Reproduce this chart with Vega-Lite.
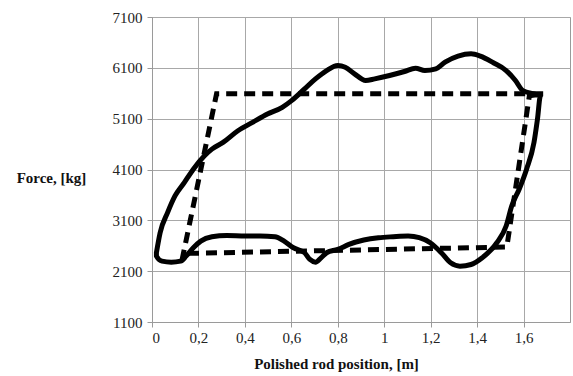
{
  "$schema": "https://vega.github.io/schema/vega-lite/v6.json",
  "width": 418,
  "height": 305,
  "autosize": {"type": "none"},
  "padding": {"left": 152, "top": 17, "right": 3, "bottom": 54},
  "background": "white",
  "config": {
    "view": {"stroke": "#9a9a9a", "strokeWidth": 1},
    "font": "Liberation Serif"
  },
  "datasets": {
    "measured": [
      {"i": 0, "x": 0.019, "y": 2462}, {"i": 1, "x": 0.035, "y": 2857}, {"i": 2, "x": 0.067, "y": 3251},
      {"i": 3, "x": 0.099, "y": 3580}, {"i": 4, "x": 0.139, "y": 3843}, {"i": 5, "x": 0.178, "y": 4107},
      {"i": 6, "x": 0.226, "y": 4370}, {"i": 7, "x": 0.258, "y": 4501}, {"i": 8, "x": 0.306, "y": 4633},
      {"i": 9, "x": 0.370, "y": 4863}, {"i": 10, "x": 0.433, "y": 5028}, {"i": 11, "x": 0.497, "y": 5192},
      {"i": 12, "x": 0.561, "y": 5324}, {"i": 13, "x": 0.601, "y": 5455}, {"i": 14, "x": 0.657, "y": 5686},
      {"i": 15, "x": 0.704, "y": 5883}, {"i": 16, "x": 0.752, "y": 6047}, {"i": 17, "x": 0.800, "y": 6146},
      {"i": 18, "x": 0.832, "y": 6113}, {"i": 19, "x": 0.872, "y": 5982}, {"i": 20, "x": 0.920, "y": 5850},
      {"i": 21, "x": 0.959, "y": 5883}, {"i": 22, "x": 1.023, "y": 5949}, {"i": 23, "x": 1.087, "y": 6028},
      {"i": 24, "x": 1.135, "y": 6093}, {"i": 25, "x": 1.175, "y": 6047}, {"i": 26, "x": 1.222, "y": 6080},
      {"i": 27, "x": 1.262, "y": 6212}, {"i": 28, "x": 1.318, "y": 6330}, {"i": 29, "x": 1.374, "y": 6376},
      {"i": 30, "x": 1.414, "y": 6330}, {"i": 31, "x": 1.470, "y": 6199}, {"i": 32, "x": 1.525, "y": 6047},
      {"i": 33, "x": 1.565, "y": 5850}, {"i": 34, "x": 1.597, "y": 5653}, {"i": 35, "x": 1.645, "y": 5587},
      {"i": 36, "x": 1.673, "y": 5554}, {"i": 37, "x": 1.660, "y": 5093}, {"i": 38, "x": 1.645, "y": 4633},
      {"i": 39, "x": 1.613, "y": 4107}, {"i": 40, "x": 1.581, "y": 3712}, {"i": 41, "x": 1.549, "y": 3383},
      {"i": 42, "x": 1.525, "y": 2988}, {"i": 43, "x": 1.485, "y": 2659}, {"i": 44, "x": 1.422, "y": 2363},
      {"i": 45, "x": 1.374, "y": 2231}, {"i": 46, "x": 1.326, "y": 2199}, {"i": 47, "x": 1.286, "y": 2264},
      {"i": 48, "x": 1.246, "y": 2462}, {"i": 49, "x": 1.198, "y": 2659}, {"i": 50, "x": 1.151, "y": 2758},
      {"i": 51, "x": 1.103, "y": 2791}, {"i": 52, "x": 1.039, "y": 2778}, {"i": 53, "x": 0.975, "y": 2758},
      {"i": 54, "x": 0.912, "y": 2712}, {"i": 55, "x": 0.848, "y": 2626}, {"i": 56, "x": 0.800, "y": 2528},
      {"i": 57, "x": 0.752, "y": 2462}, {"i": 58, "x": 0.728, "y": 2363}, {"i": 59, "x": 0.704, "y": 2277},
      {"i": 60, "x": 0.680, "y": 2330}, {"i": 61, "x": 0.657, "y": 2462}, {"i": 62, "x": 0.609, "y": 2561},
      {"i": 63, "x": 0.569, "y": 2692}, {"i": 64, "x": 0.529, "y": 2778}, {"i": 65, "x": 0.465, "y": 2791},
      {"i": 66, "x": 0.402, "y": 2791}, {"i": 67, "x": 0.322, "y": 2804}, {"i": 68, "x": 0.258, "y": 2778},
      {"i": 69, "x": 0.210, "y": 2692}, {"i": 70, "x": 0.178, "y": 2561}, {"i": 71, "x": 0.147, "y": 2396},
      {"i": 72, "x": 0.123, "y": 2297}, {"i": 73, "x": 0.083, "y": 2277}, {"i": 74, "x": 0.043, "y": 2297},
      {"i": 75, "x": 0.019, "y": 2396}, {"i": 76, "x": 0.019, "y": 2462}
    ],
    "theoretical": [
      {"i": 0, "x": 0.155, "y": 2450}, {"i": 1, "x": 1.528, "y": 2575}, {"i": 2, "x": 1.625, "y": 5550},
      {"i": 3, "x": 1.685, "y": 5590}, {"i": 4, "x": 0.278, "y": 5590}, {"i": 5, "x": 0.123, "y": 2180}
    ]
  },
  "encoding": {
    "x": {
      "field": "x", "type": "quantitative",
      "scale": {"domain": [0, 1.8], "nice": false, "zero": false},
      "axis": {
        "values": [0, 0.2, 0.4, 0.6, 0.8, 1, 1.2, 1.4, 1.6],
        "labelExpr": "replace(format(datum.value, ''), '.', ',')",
        "title": "Polished rod position, [m]",
        "titleFont": "Liberation Serif", "titleFontSize": 15, "titleFontWeight": "bold", "titleColor": "#111",
        "titleX": 184, "titleY": 46, "titleAnchor": "middle", "titleAlign": "center", "titleBaseline": "alphabetic",
        "labelFont": "Liberation Serif", "labelFontSize": 15, "labelColor": "#222", "labelPadding": 3,
        "gridColor": "#a8a8a8", "gridWidth": 1, "domainColor": "#9a9a9a", "tickColor": "#9a9a9a", "tickSize": 5
      }
    },
    "y": {
      "field": "y", "type": "quantitative",
      "scale": {"domain": [1100, 7100], "nice": false, "zero": false},
      "axis": {
        "values": [1100, 2100, 3100, 4100, 5100, 6100, 7100],
        "format": "d",
        "title": "Force, [kg]",
        "titleFont": "Liberation Serif", "titleFontSize": 15, "titleFontWeight": "bold", "titleColor": "#111",
        "titleAngle": 0, "titleX": -101, "titleY": 160, "titleAlign": "center", "titleBaseline": "middle",
        "labelFont": "Liberation Serif", "labelFontSize": 15, "labelColor": "#222", "labelPadding": 5,
        "gridColor": "#a8a8a8", "gridWidth": 1, "domainColor": "#9a9a9a", "tickColor": "#9a9a9a", "tickSize": 5
      }
    },
    "order": {"field": "i", "type": "quantitative"}
  },
  "layer": [
    {
      "data": {"name": "theoretical"},
      "mark": {"type": "line", "color": "black", "strokeWidth": 5, "strokeDash": [11, 7], "strokeCap": "butt"}
    },
    {
      "data": {"name": "measured"},
      "mark": {"type": "line", "color": "black", "strokeWidth": 5, "strokeJoin": "round", "strokeCap": "round", "interpolate": "monotone"}
    }
  ]
}
